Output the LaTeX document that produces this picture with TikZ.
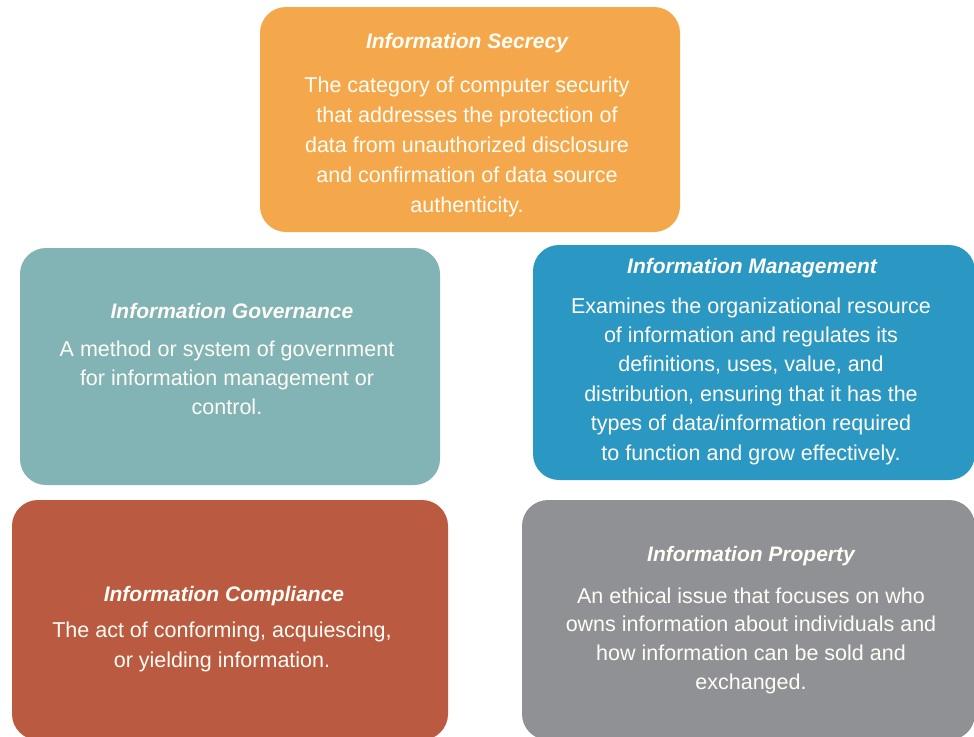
\documentclass[tikz,border=0pt]{standalone}
\usepackage{fontspec}
\setmainfont{Liberation Sans}
\definecolor{cOrange}{HTML}{F5A84B}
\definecolor{cTeal}{HTML}{82B4B6}
\definecolor{cBlue}{HTML}{2B98C3}
\definecolor{cRed}{HTML}{BA5A41}
\definecolor{cGray}{HTML}{8F9195}
\definecolor{cText}{HTML}{FFFDF6}
\newcommand{\cardlines}[2]{{\fontsize{21.5}{#1}\selectfont\begin{tabular}[t]{@{}c@{}}#2\end{tabular}}}
\tikzset{
  card/.style={fill=#1, draw=none, rounded corners=26pt},
  cardtitle/.style={text=cText, anchor=base, inner sep=0pt, font=\fontsize{21}{25}\selectfont\bfseries\itshape},
  cardbody/.style={text=cText, anchor=base, inner sep=0pt},
}
\begin{document}
\begin{tikzpicture}[x=1pt,y=-1pt]
\useasboundingbox (0,0) rectangle (974,736);
\fill[white] (0,0) rectangle (974,736);
% boxes
\path[card=cOrange] (260,7) rectangle (680,232);
\node[inner sep=0pt, minimum width=420pt, minimum height=225pt] (bsec) at (470,119.5) {};
\path[card=cTeal] (20,248) rectangle (440,485);
\node[inner sep=0pt, minimum width=420pt, minimum height=237pt] (bgov) at (230,366.5) {};
\path[card=cBlue] (533,245) rectangle (975,480);
\node[inner sep=0pt, minimum width=442pt, minimum height=235pt] (bman) at (754,362.5) {};
\path[card=cRed] (12,500) rectangle (448,740);
\node[inner sep=0pt, minimum width=436pt, minimum height=240pt] (bcom) at (230,620) {};
\path[card=cGray] (522,500) rectangle (975,740);
\node[inner sep=0pt, minimum width=453pt, minimum height=240pt] (bpro) at (748.5,620) {};
% Information Secrecy
\node[cardtitle] (hsec) at (467,48) {Information Secrecy};
\node[cardbody] (tsec) at (467,92) {\cardlines{30.2}{The category of computer security\\
that addresses the protection of\\
data from unauthorized disclosure\\
and confirmation of data source\\
authenticity.}};
% Information Governance
\node[cardtitle] (hgov) at (232,318) {Information Governance};
\node[cardbody] (tgov) at (227,356) {\cardlines{29}{A method or system of government\\
for information management or\\
control.}};
% Information Management
\node[cardtitle] (hman) at (752,273) {Information Management};
\node[cardbody] (tman) at (751,313) {\cardlines{29.4}{Examines the organizational resource\\
of information and regulates its\\
definitions, uses, value, and\\
distribution, ensuring that it has the\\
types of data/information required\\
to function and grow effectively.}};
% Information Compliance
\node[cardtitle] (hcom) at (224,601) {Information Compliance};
\node[cardbody] (tcom) at (222,637) {\cardlines{30}{The act of conforming, acquiescing,\\
or yielding information.}};
% Information Property
\node[cardtitle] (hpro) at (751,561) {Information Property};
\node[cardbody] (tpro) at (751,603) {\cardlines{28.7}{An ethical issue that focuses on who\\
owns information about individuals and\\
how information can be sold and\\
exchanged.}};
\end{tikzpicture}
\end{document}
